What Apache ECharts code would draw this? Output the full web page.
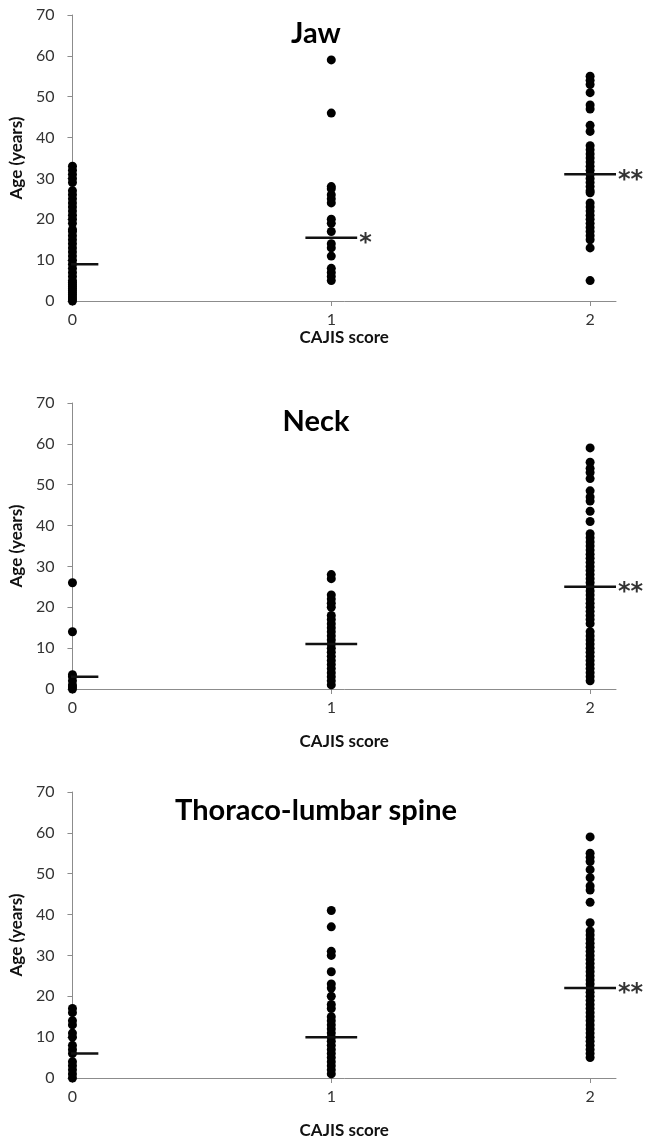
<!DOCTYPE html>
<html>
<head>
<meta charset="utf-8">
<script src="https://cdn.jsdelivr.net/npm/echarts@6/dist/echarts.min.js"></script>
<style>
  html, body { margin: 0; padding: 0; background: #fff; }
  #chart { width: 647px; height: 1142px; }
</style>
</head>
<body>
<div id="chart"></div>
<script>
// CAJIS score categories on the x axis
const scores = [0, 1, 2]
const yTicks = [0, 10, 20, 30, 40, 50, 60, 70]
const panelTitles = ['Jaw', 'Neck', 'Thoraco-lumbar spine']

// ages (years) per CAJIS score
const jaw0 = [0, 0.5, 1, 1.5, 2, 2.5, 3, 3.5, 4, 4.5, 5, 6, 7, 8, 9, 10, 11, 12, 13, 14, 15, 16, 17, 17.5, 19, 20, 21, 22, 23, 24, 25, 26, 27, 29, 30, 31, 32, 33]
const jaw1 = [59, 46, 28, 27.5, 26, 25, 24, 20, 19, 17, 14, 13, 11, 8, 7, 6, 5]
const jaw2 = [55, 54, 53, 51, 48, 47, 43, 41.5, 38, 37, 36, 35, 34, 33, 32, 31, 30, 29, 28, 27, 26.5, 24, 23, 22, 21, 20, 19, 18, 17, 16, 15, 13, 5]

const neck0 = [26, 14, 3.5, 3, 2, 1, 0.5, 0]
const neck1 = [28, 27, 23, 22, 21, 20, 18, 17, 16, 15, 14, 13, 12, 11, 10, 9, 8, 7, 6, 5, 4, 3, 2, 1]
const neck2 = [59, 55.5, 54, 53, 51.5, 48.5, 47, 46, 43.5, 41, 38, 37, 36, 35, 34, 33, 32, 31, 30, 29, 28, 27, 26, 25, 24, 23, 22, 21, 20, 19, 18, 17, 16, 14, 13, 12, 11, 10, 9, 8, 7, 6, 5, 4, 3, 2]

const spine0 = [17, 16, 14, 13, 11, 10, 8, 7, 6, 4, 3, 2, 1, 0]
const spine1 = [41, 37, 31, 30, 26, 23, 22, 20, 18, 17, 15, 14, 13, 12, 11, 10, 9, 8, 7, 6, 5, 4, 3, 2, 1]
const spine2 = [59, 55, 54, 53, 51, 49, 47, 46, 43, 38, 36, 35, 34, 33, 32, 31, 30, 29, 28, 27, 26, 25, 24, 23, 22, 21, 20, 19, 18, 17, 16, 15, 14, 13, 12, 11, 10, 9, 8, 7, 6, 5]

// mean age markers and significance stars
const jawMeans = [9, 15.5, 31]
const neckMeans = [3, 11, 25]
const spineMeans = [6, 10, 22]
const jawStars = ['', '*', '**']
const neckStars = ['', '', '**']
const spineStars = ['', '', '**']

const panels = [
  { groups: [jaw0, jaw1, jaw2], means: jawMeans, stars: jawStars },
  { groups: [neck0, neck1, neck2], means: neckMeans, stars: neckStars },
  { groups: [spine0, spine1, spine2], means: spineMeans, stars: spineStars },
]

const FONT = 'Lato, "Open Sans", sans-serif'
const gridTops = [15, 403, 792]
const nameGaps = [21, 44, 44]
const gridHeight = 286
const halfBar = 0.1
const axisGrey = '#8c8c8c'

const grids = []
const xAxes = []
const yAxes = []
const titles = []
const series = []

panels.forEach((p, i) => {
  grids.push({ left: 72, right: 31, top: gridTops[i], height: gridHeight })
  titles.push({
    text: panelTitles[i],
    left: 311,
    top: gridTops[i] - 1,
    textAlign: 'center',
    textStyle: { fontFamily: FONT, fontWeight: 'bold', fontSize: 29, color: '#000' },
  })
  xAxes.push({
    type: 'value',
    gridIndex: i,
    min: 0,
    max: 2.1,
    interval: 1,
    name: 'CAJIS score',
    nameLocation: 'middle',
    nameGap: nameGaps[i],
    nameTextStyle: { fontFamily: FONT, fontWeight: 'bold', fontSize: 17, color: '#111' },
    axisLine: { show: true, lineStyle: { color: axisGrey, width: 1 } },
    axisTick: { show: true, length: 5, customValues: scores, lineStyle: { color: axisGrey } },
    axisLabel: { customValues: scores, margin: 11, fontFamily: FONT, fontSize: 16, color: '#333' },
    splitLine: { show: false },
  })
  yAxes.push({
    type: 'value',
    gridIndex: i,
    min: yTicks[0],
    max: yTicks[yTicks.length - 1],
    interval: 10,
    name: 'Age (years)',
    nameLocation: 'middle',
    nameGap: 41,
    nameTextStyle: { fontFamily: FONT, fontWeight: 'bold', fontSize: 17, color: '#111' },
    axisLine: { show: true, lineStyle: { color: axisGrey, width: 1 } },
    axisTick: { show: true, length: 5, lineStyle: { color: axisGrey } },
    axisLabel: { margin: 18, fontFamily: FONT, fontSize: 16, color: '#333' },
    splitLine: { show: false },
  })

  p.groups.forEach((ages, c) => {
    series.push({
      type: 'scatter',
      xAxisIndex: i,
      yAxisIndex: i,
      symbolSize: 9,
      itemStyle: { color: '#000', opacity: 1 },
      data: ages.map((v) => [scores[c], v]),
      silent: true,
    })
  })

  p.means.forEach((m, c) => {
    series.push({
      type: 'line',
      xAxisIndex: i,
      yAxisIndex: i,
      showSymbol: false,
      clip: true,
      lineStyle: { color: '#111', width: 2.5 },
      data: [[scores[c] - halfBar, m], [scores[c] + halfBar, m]],
      silent: true,
      z: 3,
    })
  })

  series.push({
    type: 'scatter',
    xAxisIndex: i,
    yAxisIndex: i,
    symbolSize: 0,
    clip: false,
    silent: true,
    label: {
      show: true,
      position: 'right',
      distance: 2,
      offset: [0, 6],
      fontFamily: '"DejaVu Sans", sans-serif',
      fontWeight: 'bold',
      fontSize: 24,
      color: '#000',
      formatter: (d) => p.stars[d.dataIndex],
    },
    data: p.means.map((m, c) => [scores[c] + halfBar, m]),
  })
})

const chart = echarts.init(document.getElementById('chart'))
chart.setOption({
  animation: false,
  backgroundColor: '#fff',
  title: titles,
  grid: grids,
  xAxis: xAxes,
  yAxis: yAxes,
  series: series,
})
window.addEventListener('resize', () => chart.resize())
</script>
</body>
</html>
